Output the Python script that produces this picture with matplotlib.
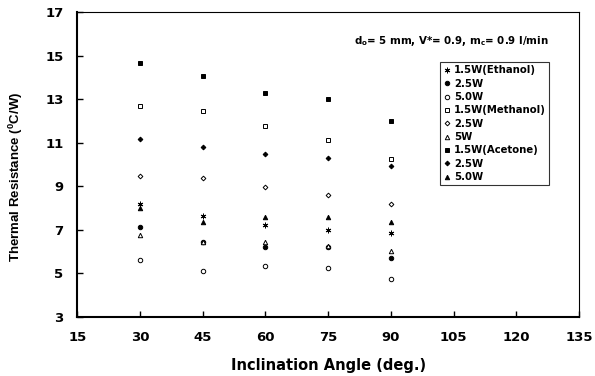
import matplotlib
matplotlib.use("Agg")
import matplotlib.pyplot as plt

plt.rcParams["font.family"] = ["DejaVu Sans"]
plt.rcParams["font.weight"] = "bold"

angles = [30, 45, 60, 75, 90]

# ethanol
eth_15 = [8.19, 7.64, 7.20, 7.00, 6.85]
eth_25 = [7.11, 6.42, 6.23, 6.23, 5.70]
eth_50 = [5.62, 5.12, 5.35, 5.27, 4.74]
# methanol
met_15 = [12.69, 12.47, 11.79, 11.13, 10.26]
met_25 = [9.45, 9.37, 8.96, 8.61, 8.19]
met_50 = [6.77, 6.45, 6.44, 6.25, 6.05]
# acetone
ace_15 = [14.65, 14.06, 13.30, 13.00, 12.00]
ace_25 = [11.19, 10.82, 10.47, 10.29, 9.92]
ace_50 = [8.00, 7.35, 7.61, 7.61, 7.38]

series = [
    (eth_15, (6, 2, 0), "k", "1.5W(Ethanol)"),
    (eth_25, "o", "k", "2.5W"),
    (eth_50, "o", "w", "5.0W"),
    (met_15, "s", "w", "1.5W(Methanol)"),
    (met_25, "D", "w", "2.5W"),
    (met_50, "^", "w", "5W"),
    (ace_15, "s", "k", "1.5W(Acetone)"),
    (ace_25, "D", "k", "2.5W"),
    (ace_50, "^", "k", "5.0W"),
]

fig, ax = plt.subplots(figsize=(5.95, 3.76), dpi=100)
fig.subplots_adjust(left=0.13, right=0.973, top=0.968, bottom=0.157)

for vals, m, fc, lab in series:
    size = 3.2
    if m == "D":
        size = 2.4
    if m == (6, 2, 0):
        size = 4.0
    ax.plot(angles, vals, linestyle="none", marker=m, markersize=size,
            markerfacecolor=fc, markeredgecolor="k", markeredgewidth=0.7,
            color="k", label=lab)

ax.set_xlim(15, 135)
ax.set_ylim(3, 17)
ax.set_xticks(range(15, 136, 15))
ax.set_yticks(range(3, 18, 2))
ax.tick_params(direction="in", length=4, width=1, labelsize=9.5, pad=10)
for lbl in ax.get_xticklabels() + ax.get_yticklabels():
    lbl.set_fontweight("bold")

ax.spines["left"].set_linewidth(1.5)
ax.spines["bottom"].set_linewidth(1.5)
ax.spines["top"].set_linewidth(0.8)
ax.spines["right"].set_linewidth(0.8)

ax.set_xlabel("Inclination Angle (deg.)", fontsize=10.5, fontweight="bold", labelpad=10)
ax.set_ylabel("Thermal Resistance ($\\mathregular{^0}$C/W)", fontsize=9.5,
              fontweight="bold", family=["Liberation Sans Narrow", "Liberation Sans"])
ax.yaxis.set_label_coords(-0.104, 0.46)

ax.text(0.94, 0.905, "d$_\\mathregular{o}$= 5 mm, V*= 0.9, m$_\\mathregular{c}$= 0.9 l/min",
        transform=ax.transAxes, ha="right", va="center", fontsize=7.4, fontweight="bold")

leg = ax.legend(loc="upper right", bbox_to_anchor=(0.94, 0.835), fontsize=7.3,
                frameon=True, fancybox=False, edgecolor="k", borderpad=0.3,
                labelspacing=0.33, handlelength=0.7, handletextpad=0.35,
                borderaxespad=0)
leg.get_frame().set_linewidth(0.8)
for t in leg.get_texts():
    t.set_fontweight("bold")

fig.savefig("out.png", dpi=100)
